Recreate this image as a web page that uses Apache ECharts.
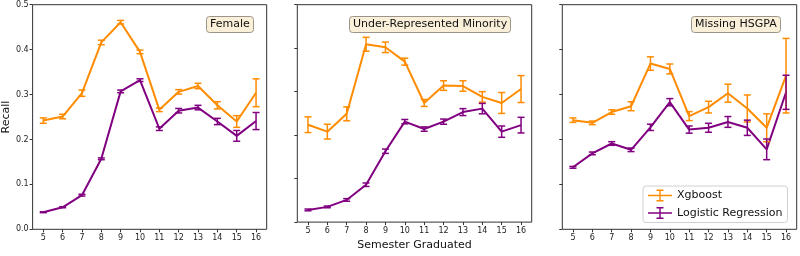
<!DOCTYPE html>
<html>
<head>
<meta charset="utf-8">
<script src="https://cdn.jsdelivr.net/npm/echarts@6/dist/echarts.min.js"></script>
<style>
  html, body { margin: 0; padding: 0; background: #fff; }
  #chart { width: 800px; height: 256px; }
</style>
</head>
<body>
<div id="chart"></div>
<script>
const semesters = [5, 6, 7, 8, 9, 10, 11, 12, 13, 14, 15, 16];
const yTicks = [0, 0.1, 0.2, 0.3, 0.4, 0.5];
const panelTitles = ['Female', 'Under-Represented Minority', 'Missing HSGPA'];
const seriesNames = ['Xgboost', 'Logistic Regression'];

// Female
const femaleXgb    = [0.242, 0.251, 0.303, 0.416, 0.461, 0.395, 0.266, 0.306, 0.319, 0.276, 0.240, 0.304];
const femaleXgbErr = [0.006, 0.005, 0.007, 0.005, 0.004, 0.004, 0.004, 0.005, 0.006, 0.008, 0.013, 0.031];
const femaleLr     = [0.038, 0.049, 0.076, 0.157, 0.307, 0.332, 0.224, 0.264, 0.271, 0.240, 0.208, 0.241];
const femaleLrErr  = [0.001, 0.001, 0.002, 0.002, 0.003, 0.003, 0.004, 0.005, 0.005, 0.007, 0.012, 0.019];

// Under-Represented Minority
const urmXgb    = [0.224, 0.208, 0.249, 0.409, 0.402, 0.369, 0.274, 0.314, 0.313, 0.288, 0.274, 0.306];
const urmXgbErr = [0.018, 0.017, 0.016, 0.016, 0.012, 0.008, 0.008, 0.011, 0.012, 0.012, 0.024, 0.031];
const urmLr     = [0.028, 0.035, 0.051, 0.086, 0.163, 0.231, 0.214, 0.231, 0.253, 0.261, 0.208, 0.223];
const urmLrErr  = [0.002, 0.002, 0.003, 0.004, 0.005, 0.005, 0.005, 0.006, 0.008, 0.012, 0.013, 0.018];

// Missing HSGPA
const hsgpaXgb    = [0.243, 0.237, 0.261, 0.274, 0.369, 0.357, 0.252, 0.272, 0.303, 0.269, 0.226, 0.342];
const hsgpaXgbErr = [0.005, 0.004, 0.005, 0.010, 0.015, 0.011, 0.010, 0.013, 0.020, 0.030, 0.031, 0.083];
const hsgpaLr     = [0.138, 0.169, 0.191, 0.177, 0.227, 0.283, 0.222, 0.226, 0.239, 0.226, 0.178, 0.305];
const hsgpaLrErr  = [0.002, 0.003, 0.004, 0.004, 0.007, 0.008, 0.008, 0.010, 0.012, 0.017, 0.023, 0.038];

const panels = [
  { xgb: femaleXgb, xgbErr: femaleXgbErr, lr: femaleLr, lrErr: femaleLrErr },
  { xgb: urmXgb, xgbErr: urmXgbErr, lr: urmLr, lrErr: urmLrErr },
  { xgb: hsgpaXgb, xgbErr: hsgpaXgbErr, lr: hsgpaLr, lrErr: hsgpaLrErr }
];

const colors = ['#ff8c00', '#800080'];
const font = 'DejaVu Sans';
const gridLefts = [32.3, 297.3, 562.3];
const gridWidth = 234.4;
const titleLefts = [206, 349, 691];

// errorbar legend glyph: horizontal line, vertical bar and two caps
const errIcon = 'path://M0 5.2H24V6.8H0Z M11.3 0H12.7V12H11.3Z M8.5 0H15.5V1.4H8.5Z M8.5 10.6H15.5V12H8.5Z';

function errorBarRender(color) {
  return function (params, api) {
    const x = api.value(0);
    const top = api.coord([x, api.value(2)]);
    const bot = api.coord([x, api.value(1)]);
    const cw = 3.5;
    const style = { stroke: color, lineWidth: 1.5 };
    return {
      type: 'group',
      children: [
        { type: 'line', shape: { x1: top[0], y1: top[1], x2: bot[0], y2: bot[1] }, style: style },
        { type: 'line', shape: { x1: top[0] - cw, y1: top[1], x2: top[0] + cw, y2: top[1] }, style: style },
        { type: 'line', shape: { x1: bot[0] - cw, y1: bot[1], x2: bot[0] + cw, y2: bot[1] }, style: style }
      ]
    };
  };
}

const grid = [], xAxis = [], yAxis = [], series = [], title = [];

panels.forEach((p, i) => {
  grid.push({
    left: gridLefts[i], top: 4.7, width: gridWidth, height: 224.6,
    show: true, borderColor: '#333', borderWidth: 1, backgroundColor: 'transparent'
  });
  xAxis.push({
    type: 'value', gridIndex: i, min: 4.45, max: 16.55,
    splitLine: { show: false },
    axisLine: { show: false },
    axisTick: { show: true, inside: false, length: 3, lineStyle: { color: '#333' }, customValues: semesters },
    axisLabel: { fontSize: 8, color: '#222', fontFamily: font, margin: 5, customValues: semesters },
    name: i === 1 ? 'Semester Graduated' : '',
    nameLocation: 'middle', nameGap: 16,
    nameTextStyle: { fontSize: 11, color: '#111', fontFamily: font }
  });
  yAxis.push({
    type: 'value', gridIndex: i, min: 0, max: 0.5,
    splitLine: { show: false },
    axisLine: { show: false },
    axisTick: { show: true, inside: false, length: 3, lineStyle: { color: '#333' }, customValues: yTicks },
    axisLabel: {
      show: i === 0, fontSize: 8, color: '#222', fontFamily: font, margin: 4,
      customValues: yTicks, formatter: v => v.toFixed(1)
    },
    name: i === 0 ? 'Recall' : '',
    nameLocation: 'middle', nameGap: 20, nameRotate: 90,
    nameTextStyle: { fontSize: 11, color: '#111', fontFamily: font }
  });
  title.push({
    text: panelTitles[i],
    left: titleLefts[i], top: 16,
    padding: [2, 4],
    backgroundColor: '#faefd9',
    borderColor: '#9a948a', borderWidth: 1, borderRadius: 3,
    textStyle: { fontSize: 11, fontWeight: 'normal', color: '#111', fontFamily: font, lineHeight: 13 }
  });

  const means = [p.xgb, p.lr];
  const errs = [p.xgbErr, p.lrErr];
  means.forEach((m, k) => {
    series.push({
      type: 'custom',
      xAxisIndex: i, yAxisIndex: i,
      renderItem: errorBarRender(colors[k]),
      encode: { x: 0, y: [1, 2] },
      data: semesters.map((s, j) => [s, m[j] - errs[k][j], m[j] + errs[k][j]]),
      z: 3,
      silent: true
    });
    series.push({
      name: seriesNames[k],
      type: 'line',
      xAxisIndex: i, yAxisIndex: i,
      data: semesters.map((s, j) => [s, m[j]]),
      symbol: 'none',
      lineStyle: { width: 2, color: colors[k] },
      itemStyle: { color: colors[k] },
      z: 2,
      animation: false
    });
  });
});

const chart = echarts.init(document.getElementById('chart'), null, { renderer: 'canvas' });
chart.setOption({
  animation: false,
  title: title,
  grid: grid,
  xAxis: xAxis,
  yAxis: yAxis,
  legend: {
    data: seriesNames.map(n => ({ name: n, icon: errIcon })),
    orient: 'vertical',
    left: 643, top: 186,
    itemWidth: 24, itemHeight: 12, itemGap: 5.5,
    padding: [3.5, 5, 3.5, 5],
    backgroundColor: '#fff',
    borderColor: '#d0d0d0', borderWidth: 1, borderRadius: 3,
    textStyle: { fontSize: 11, color: '#111', fontFamily: font },
    selectedMode: false
  },
  series: series
});
</script>
</body>
</html>
